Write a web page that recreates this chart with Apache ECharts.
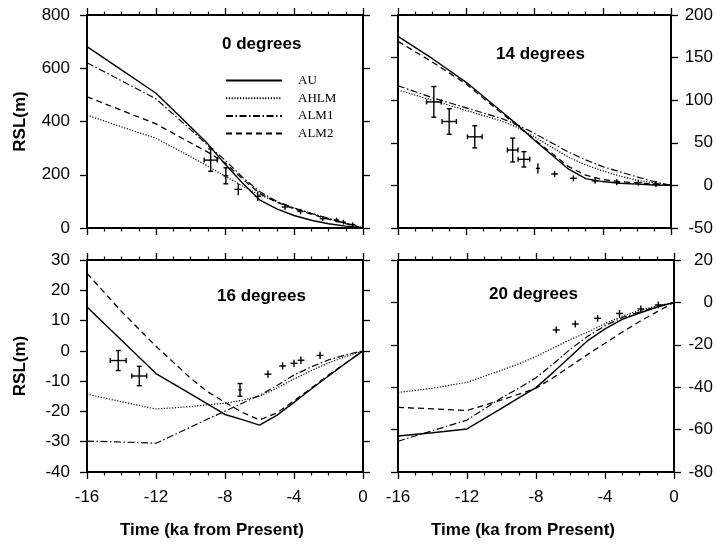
<!DOCTYPE html>
<html>
<head>
<meta charset="utf-8">
<script src="https://cdn.jsdelivr.net/npm/echarts@6/dist/echarts.min.js"></script>
<style>
  html, body { margin: 0; padding: 0; background: #fff; }
  #chart { width: 716px; height: 548px; }
</style>
</head>
<body>
<div id="chart"></div>
<script>
// time axis of the model curves (ka from present)
const years = [-16, -14, -12, -10, -9, -8, -7, -6, -5, -4, -3, -2, -1, 0];
const seriesNames = ['AU', 'AHLM', 'ALM1', 'ALM2'];
const panelTitles = ['0 degrees', '14 degrees', '16 degrees', '20 degrees'];

// 0 degrees
const au0   = [681, 594, 506, 380, 316, 240, 170, 106, 72, 47, 29, 16, 7, 0];
const ahlm0 = [424, 380, 337, 268, 232, 195, 158, 125, 98, 75, 55, 36, 18, 0];
const alm1_0 = [621, 553, 485, 370, 310, 255, 192, 137, 100, 75, 55, 36, 18, 0];
const alm2_0 = [493, 442, 391, 320, 285, 245, 185, 130, 97, 72, 52, 33, 16, 0];
// observations: [time, rsl, time error, rsl error]
const obs0 = [
  [-8.83, 255, 0.38, 42], [-7.95, 196, 0.15, 30], [-7.23, 145, 0.22, 22],
  [-6.1, 119, 0.18, 18], [-4.52, 79, 0.2, 11], [-3.62, 62, 0.18, 10],
  [-2.33, 35, 0.18, 10], [-1.53, 30, 0.15, 9], [-1.14, 22, 0.15, 9], [-0.6, 13, 0.15, 8]
];

// 14 degrees
const au14   = [175, 149, 121, 88, 71, 53, 36, 19, 8, 4.5, 2.5, 1.5, 0.5, 0];
const ahlm14 = [112, 100, 88, 76, 68, 57, 45, 33, 24, 17, 11, 6, 3, 0];
const alm1_14 = [117, 103, 91, 79, 71, 61, 50, 39, 30, 22, 16, 10, 4.5, 0];
const alm2_14 = [169, 145, 119, 86, 70, 54, 38, 22, 12, 7, 4.5, 3, 1.5, 0];
const obs14 = [
  [-13.9, 98, 0.43, 18], [-13.0, 75, 0.42, 15], [-11.5, 57, 0.43, 13],
  [-9.28, 41.5, 0.31, 14], [-8.62, 30.6, 0.34, 9], [-7.8, 20, 0.12, 6],
  [-6.82, 13.4, 0.2, 3.5], [-5.72, 8.3, 0.2, 3.5], [-4.45, 5.3, 0.2, 3.5],
  [-3.18, 3.6, 0.2, 3.5], [-1.91, 3.2, 0.2, 3.5], [-0.88, 1.6, 0.2, 3.5]
];

// 16 degrees
const au16   = [14.5, 3.5, -7.5, -14.2, -17.6, -21, -22.7, -24.5, -21.3, -17, -12.6, -8.3, -4.1, 0];
const ahlm16 = [-14.3, -16.8, -19.2, -18.4, -17.8, -17.3, -16.3, -15, -12.3, -9.3, -6.5, -4, -1.9, 0];
const alm1_16 = [-29.8, -30.1, -30.5, -25.2, -22.5, -19.9, -17.3, -14.7, -11.5, -8, -5.3, -3, -1.3, 0];
const alm2_16 = [25.6, 13, 1.5, -9, -13.5, -17, -20.3, -22.8, -20.5, -16.5, -12.3, -8, -4, 0];
const obs16 = [
  [-14.19, -3.2, 0.46, 3.3], [-12.97, -8.3, 0.43, 3.2], [-7.13, -12.9, 0.1, 2.1],
  [-5.51, -7.7, 0.2, 1.2], [-4.66, -5.0, 0.2, 1.2], [-4.0, -4.1, 0.2, 1.2],
  [-3.6, -3.1, 0.2, 1.2], [-2.49, -1.5, 0.2, 1.2]
];

// 20 degrees
const au20   = [-63, -61.5, -59.7, -50, -45, -40.2, -33, -25.5, -18, -12.5, -8, -5, -2.3, 0];
const ahlm20 = [-42.5, -40.5, -37.7, -32, -29, -25.5, -21.5, -17.5, -14, -10, -6.5, -3.7, -1.7, 0];
const alm1_20 = [-65.5, -60.5, -55.5, -45, -40.5, -35.5, -29, -22, -16, -11, -7.2, -4.5, -2, 0];
const alm2_20 = [-49.5, -50.2, -51, -46, -43.3, -40.5, -35.5, -30, -24.5, -19.3, -14, -9, -4.5, 0];
const obs20 = [
  [-6.83, -13, 0.2, 1.6], [-5.72, -10.2, 0.2, 1.6], [-4.43, -7.5, 0.2, 1.6],
  [-3.16, -5.2, 0.2, 1.6], [-1.92, -3.1, 0.2, 1.6], [-0.91, -1.2, 0.2, 1.6]
];

const yRanges = [[0, 800, 200], [-50, 200, 50], [-40, 30, 10], [-80, 20, 20]];

const panels = [
  { curves: [au0, ahlm0, alm1_0, alm2_0], obs: obs0 },
  { curves: [au14, ahlm14, alm1_14, alm2_14], obs: obs14 },
  { curves: [au16, ahlm16, alm1_16, alm2_16], obs: obs16 },
  { curves: [au20, ahlm20, alm1_20, alm2_20], obs: obs20 }
];

const grids = [
  { left: 87, top: 15, width: 276, height: 213 },
  { left: 398, top: 15, width: 277, height: 213 },
  { left: 87, top: 260, width: 276, height: 212 },
  { left: 398, top: 260, width: 277, height: 212 }
];
const titlePos = [[222, 36], [496, 46], [217, 288], [489, 286]];

const lineTypes = ['solid', [1.2, 1.6], [7, 2.5, 1.5, 2.5], [6, 4]];
const lineWidths = [1.4, 1.2, 1.2, 1.3];

const FONT = 'Liberation Sans, Arial, Helvetica, sans-serif';
const frame = { show: true, onZero: false, lineStyle: { color: '#000', width: 2 } };
const tick = { show: true, length: 7, lineStyle: { color: '#000', width: 1.3 } };
const minor = { show: true, splitNumber: 4, length: 3.5, lineStyle: { color: '#000', width: 1.2 } };

const xAxis = [];
const yAxis = [];
grids.forEach((g, i) => {
  const bottomRow = i >= 2;
  const leftCol = i % 2 === 0;
  const [ymin, ymax, yint] = yRanges[i];
  xAxis.push({
    gridIndex: i, type: 'value', min: -16, max: 0, interval: 4, position: 'bottom',
    axisLine: frame, axisTick: tick, minorTick: minor, splitLine: { show: false },
    axisLabel: { show: bottomRow, color: '#000', fontSize: 17, fontFamily: FONT, margin: 17 },
    name: bottomRow ? 'Time (ka from Present)' : '',
    nameLocation: 'middle', nameGap: 50,
    nameTextStyle: {
      color: '#000', fontSize: 17, fontWeight: 'bold', fontFamily: FONT,
      padding: [0, 26, 0, 0]
    }
  });
  xAxis.push({
    gridIndex: i, type: 'value', min: -16, max: 0, interval: 4, position: 'top',
    axisLine: frame, axisTick: tick, minorTick: minor, splitLine: { show: false },
    axisLabel: { show: false }
  });
  yAxis.push({
    gridIndex: i, type: 'value', min: ymin, max: ymax, interval: yint, position: 'left',
    axisLine: frame, axisTick: tick, splitLine: { show: false },
    axisLabel: { show: leftCol, color: '#000', fontSize: 17, fontFamily: FONT, margin: 17 },
    name: leftCol ? 'RSL(m)' : '', nameLocation: 'middle', nameGap: 58,
    nameTextStyle: { color: '#000', fontSize: 17, fontWeight: 'bold', fontFamily: FONT }
  });
  yAxis.push({
    gridIndex: i, type: 'value', min: ymin, max: ymax, interval: yint, position: 'right',
    axisLine: frame, axisTick: tick, splitLine: { show: false },
    axisLabel: {
      show: !leftCol, color: '#000', fontSize: 17, fontFamily: FONT,
      align: 'right', margin: i === 1 ? 42 : 39
    }
  });
});

function renderErr(params, api) {
  const x = api.value(0), y = api.value(1), ex = api.value(2), ey = api.value(3);
  const c = api.coord([x, y]);
  const l = api.coord([x - ex, y]), r = api.coord([x + ex, y]);
  const t = api.coord([x, y + ey]), b = api.coord([x, y - ey]);
  const st = { stroke: '#000', lineWidth: 1.4 };
  const kids = [
    { type: 'line', shape: { x1: l[0], y1: c[1], x2: r[0], y2: c[1] }, style: st },
    { type: 'line', shape: { x1: c[0], y1: t[1], x2: c[0], y2: b[1] }, style: st }
  ];
  // end caps only on the longer bars
  if (b[1] - t[1] > 12) {
    kids.push({ type: 'line', shape: { x1: c[0] - 2.5, y1: t[1], x2: c[0] + 2.5, y2: t[1] }, style: st });
    kids.push({ type: 'line', shape: { x1: c[0] - 2.5, y1: b[1], x2: c[0] + 2.5, y2: b[1] }, style: st });
  }
  if (r[0] - l[0] > 9) {
    kids.push({ type: 'line', shape: { x1: l[0], y1: c[1] - 2.5, x2: l[0], y2: c[1] + 2.5 }, style: st });
    kids.push({ type: 'line', shape: { x1: r[0], y1: c[1] - 2.5, x2: r[0], y2: c[1] + 2.5 }, style: st });
  }
  return { type: 'group', children: kids };
}

const series = [];
panels.forEach((p, i) => {
  p.curves.forEach((vals, k) => {
    series.push({
      name: seriesNames[k], type: 'line', xAxisIndex: 2 * i, yAxisIndex: 2 * i,
      data: years.map((t, j) => [t, vals[j]]),
      symbol: 'none', silent: true, animation: false,
      lineStyle: { color: '#000', width: lineWidths[k], type: lineTypes[k] },
      itemStyle: { color: '#000' }
    });
  });
  series.push({
    type: 'custom', xAxisIndex: 2 * i, yAxisIndex: 2 * i,
    data: p.obs, renderItem: renderErr, encode: { x: 0, y: 1 },
    silent: true, animation: false, clip: false
  });
});

const chart = echarts.init(document.getElementById('chart'));
chart.setOption({
  animation: false,
  backgroundColor: '#fff',
  grid: grids,
  xAxis: xAxis,
  yAxis: yAxis,
  title: panelTitles.map((t, i) => ({
    text: t, left: titlePos[i][0], top: titlePos[i][1], padding: 0,
    textStyle: { color: '#000', fontSize: 17, fontWeight: 'bold', fontFamily: FONT }
  })),
  legend: {
    data: seriesNames, orient: 'vertical', left: 220, top: 69,
    itemWidth: 56, itemHeight: 14, itemGap: 4.7, selectedMode: false,
    itemStyle: { opacity: 0 },
    textStyle: { color: '#000', fontSize: 13, fontFamily: 'Liberation Serif, Times New Roman, serif', padding: [0, 0, 0, 11] }
  },
  series: series
});
</script>
</body>
</html>
